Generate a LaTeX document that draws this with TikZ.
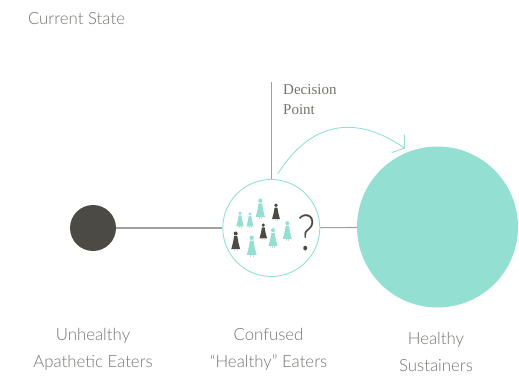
\documentclass[tikz,border=0pt]{standalone}
\usepackage{fontspec}
\usetikzlibrary{arrows.meta}
\setmainfont{Lato Light}
\newfontfamily\decisionfont{Liberation Serif}
\definecolor{figteal}{HTML}{93E0D2}
\definecolor{figdark}{HTML}{4C4A44}
\definecolor{figline}{HTML}{A0A09E}
\definecolor{figtext}{HTML}{73736F}
\tikzset{x=1pt, y=1pt, auto,
  blob/.style={circle, inner sep=0pt, outer sep=0pt, fill=#1},
  label text/.style={text=figtext, align=center, font=\fontsize{16.8}{27}\selectfont},
  stem/.style={draw=figline, line width=1.1pt},
  swoop/.style={draw=figteal, line width=.9pt, -{Straight Barb[length=8pt,width=22pt]}},
  person/.pic={
    \fill[pic actions] (0,17.5) circle (2);
    \fill[pic actions] (-1.6,14.8) -- (1.6,14.8) -- (2.6,9) -- (4.4,2) -- (-4.4,2) -- (-2.6,9) -- cycle;
    \draw[figline!45, line width=.3pt] (-1.2,2) -- (-1.2,0) (1.2,2) -- (1.2,0);
  }}

\begin{document}
\begin{tikzpicture}
  \useasboundingbox (0,0) rectangle (519,-377);
  \node (current) [text=figtext, font=\fontsize{16.8}{18}\selectfont] at (76.5,-19) {Current State};

  \node (unhealthy)  [blob=figdark, minimum size=46pt]  at (93,-228) {};
  \node (confused)   [circle, draw=figteal, line width=.9pt, fill=white, inner sep=0pt, minimum size=97pt] at (271.3,-228) {};
  \node (sustainers) [blob=figteal, minimum size=161pt] at (437.5,-227) {};
  \coordinate (top) at (271.3,-82.5);
  \coordinate (arcstart) at (277.7,-174);
  \coordinate (arcend) at (405,-148.5);

  \draw[stem] (unhealthy) -- (confused);
  \draw[stem] (confused) -- (sustainers);
  \draw[stem] (top) -- (confused);
  \draw[swoop] (arcstart) to[out=58,in=145,looseness=1.2] (arcend);

  % people in the middle circle
  \foreach \px/\py/\ps in {240/228/.85, 250/228/.8, 260.3/219/1.05, 287.3/241/1.02, 273/248/1.02, 251.7/257/1.1}
    \pic[fill=figteal, scale=\ps] at (\px,-\py) {person};
  \foreach \px/\py/\ps in {276/221/.9, 263.3/240/.85, 235.7/251/1}
    \pic[fill=figdark, scale=\ps] at (\px,-\py) {person};
  \node (question) [text=figdark, font=\fontsize{50}{50}\selectfont, xscale=.85, transform shape] at (306.7,-233) {?};

  \node (decision) [text=figtext, align=left, anchor=north west, inner sep=0pt, font=\decisionfont\fontsize{15}{20}\selectfont] at (283,-84) {Decision\\Point};
  \node (lblunhealthy)  [label text] at (93,-349)  {Unhealthy\\Apathetic Eaters};
  \node (lblconfused)   [label text] at (268.5,-349) {Confused\\“Healthy” Eaters};
  \node (lblsustainers) [label text] at (436,-352) {Healthy\\Sustainers};
\end{tikzpicture}
\end{document}
